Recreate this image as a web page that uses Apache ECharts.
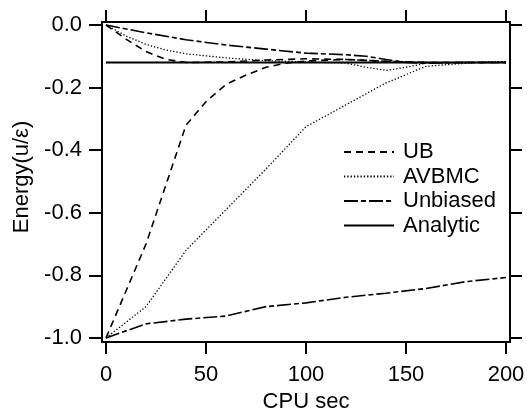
<!DOCTYPE html>
<html>
<head>
<meta charset="utf-8">
<script src="https://cdn.jsdelivr.net/npm/echarts@6/dist/echarts.min.js"></script>
<style>html,body{margin:0;padding:0;background:#fff;}#c{width:527px;height:410px;}</style>
</head>
<body>
<div id="c"></div>
<script>
// ---- data ----
const seriesNames = ['UB', 'AVBMC', 'Unbiased', 'Analytic'];
const xTicks = [0, 50, 100, 150, 200];
const yTicks = [-1.0, -0.8, -0.6, -0.4, -0.2, 0.0];

const ubTopX = [0, 10, 20, 30, 40, 60, 80, 100, 120, 140, 160, 180, 200];
const ubTopY = [0, -0.045, -0.085, -0.11, -0.12, -0.118, -0.112, -0.108, -0.11, -0.116, -0.12, -0.12, -0.12];
const ubBotX = [0, 10, 20, 30, 40, 50, 60, 70, 80, 90, 100, 120, 140, 160, 180, 200];
const ubBotY = [-1, -0.85, -0.70, -0.51, -0.32, -0.245, -0.19, -0.16, -0.135, -0.122, -0.115, -0.11, -0.116, -0.12, -0.12, -0.12];

const avTopX = [0, 10, 20, 30, 40, 60, 80, 100, 120, 130, 140, 150, 160, 180, 200];
const avTopY = [0, -0.035, -0.062, -0.08, -0.092, -0.105, -0.114, -0.118, -0.122, -0.135, -0.145, -0.135, -0.122, -0.12, -0.117];
const avBotX = [0, 20, 40, 60, 80, 100, 120, 140, 160, 180, 200];
const avBotY = [-1, -0.90, -0.72, -0.59, -0.46, -0.325, -0.255, -0.185, -0.132, -0.122, -0.117];

const unTopX = [0, 20, 40, 60, 80, 100, 120, 130, 140, 150, 160, 180, 200];
const unTopY = [0, -0.025, -0.047, -0.064, -0.077, -0.09, -0.095, -0.10, -0.11, -0.12, -0.122, -0.12, -0.12];
const unBotX = [0, 20, 40, 60, 80, 100, 120, 140, 160, 180, 200];
const unBotY = [-1, -0.955, -0.94, -0.93, -0.90, -0.888, -0.87, -0.857, -0.842, -0.82, -0.807];

const analyticX = [0, 200];
const analyticY = [-0.12, -0.12];

// ---- chart ----
const zip = (xs, ys) => xs.map((x, i) => [x, ys[i]]);
const FONT = 'Liberation Sans';
const FS = 22;
const styles = {
  UB: { type: [7, 5], width: 1.6 },
  AVBMC: { type: [1.3, 2], width: 1.3 },
  Unbiased: { type: [14, 3, 5, 3], width: 1.6 },
  Analytic: { type: 'solid', width: 2 }
};
function mk(name, xs, ys) {
  return {
    type: 'line', name: name, data: zip(xs, ys), symbol: 'none', showSymbol: false,
    lineStyle: Object.assign({ color: '#000' }, styles[name]),
    itemStyle: { color: '#000' }, animation: false, silent: true
  };
}
const axisLineStyle = { onZero: false, lineStyle: { color: '#000', width: 2 } };
const tickStyle = { color: '#000', width: 2 };
const chart = echarts.init(document.getElementById('c'));
chart.setOption({
  backgroundColor: '#fff',
  animation: false,
  grid: { left: 102, right: 17, top: 22, bottom: 68, containLabel: false, outerBoundsMode: 'none' },
  legend: {
    data: seriesNames, orient: 'vertical', left: 338, top: 136,
    itemWidth: 50, itemHeight: 12, itemGap: 2.5,
    itemStyle: { color: 'rgba(0,0,0,0)', borderColor: 'rgba(0,0,0,0)', borderWidth: 0, opacity: 0 },
    textStyle: { fontFamily: FONT, fontSize: FS, color: '#000', lineHeight: 22, padding: [0, 0, 0, 4] },
    selectedMode: false
  },
  xAxis: [{
    type: 'value', min: -2, max: 202, position: 'bottom',
    name: 'CPU sec', nameLocation: 'middle', nameGap: 45,
    nameTextStyle: { fontFamily: FONT, fontSize: FS, color: '#000' },
    axisLine: axisLineStyle,
    axisTick: { show: true, inside: false, length: 12, lineStyle: tickStyle, customValues: xTicks },
    axisLabel: { fontFamily: FONT, fontSize: FS, color: '#000', margin: 22, customValues: xTicks },
    splitLine: { show: false }
  }, {
    type: 'value', min: -2, max: 202, position: 'top',
    axisLine: axisLineStyle,
    axisTick: { show: true, inside: false, length: 12, lineStyle: tickStyle, customValues: xTicks },
    axisLabel: { show: false },
    splitLine: { show: false }
  }],
  yAxis: [{
    type: 'value', min: -1.013, max: 0.0096, position: 'left',
    name: 'Energy(u/\u03b5)', nameLocation: 'middle', nameGap: 68,
    nameTextStyle: { fontFamily: FONT, fontSize: FS, color: '#000', padding: [0, 0, 0, 10] },
    axisLine: axisLineStyle,
    axisTick: { show: true, inside: false, length: 13, lineStyle: tickStyle, customValues: yTicks },
    axisLabel: { fontFamily: FONT, fontSize: FS, color: '#000', margin: 20, customValues: yTicks,
      formatter: v => v.toFixed(1) },
    splitLine: { show: false }
  }, {
    type: 'value', min: -1.013, max: 0.0096, position: 'right',
    axisLine: axisLineStyle,
    axisTick: { show: true, inside: false, length: 12, lineStyle: tickStyle, customValues: yTicks },
    axisLabel: { show: false },
    splitLine: { show: false }
  }],
  series: [
    mk('UB', ubTopX, ubTopY),
    mk('UB', ubBotX, ubBotY),
    mk('AVBMC', avTopX, avTopY),
    mk('AVBMC', avBotX, avBotY),
    mk('Unbiased', unTopX, unTopY),
    mk('Unbiased', unBotX, unBotY),
    mk('Analytic', analyticX, analyticY)
  ]
});
</script>
</body>
</html>
